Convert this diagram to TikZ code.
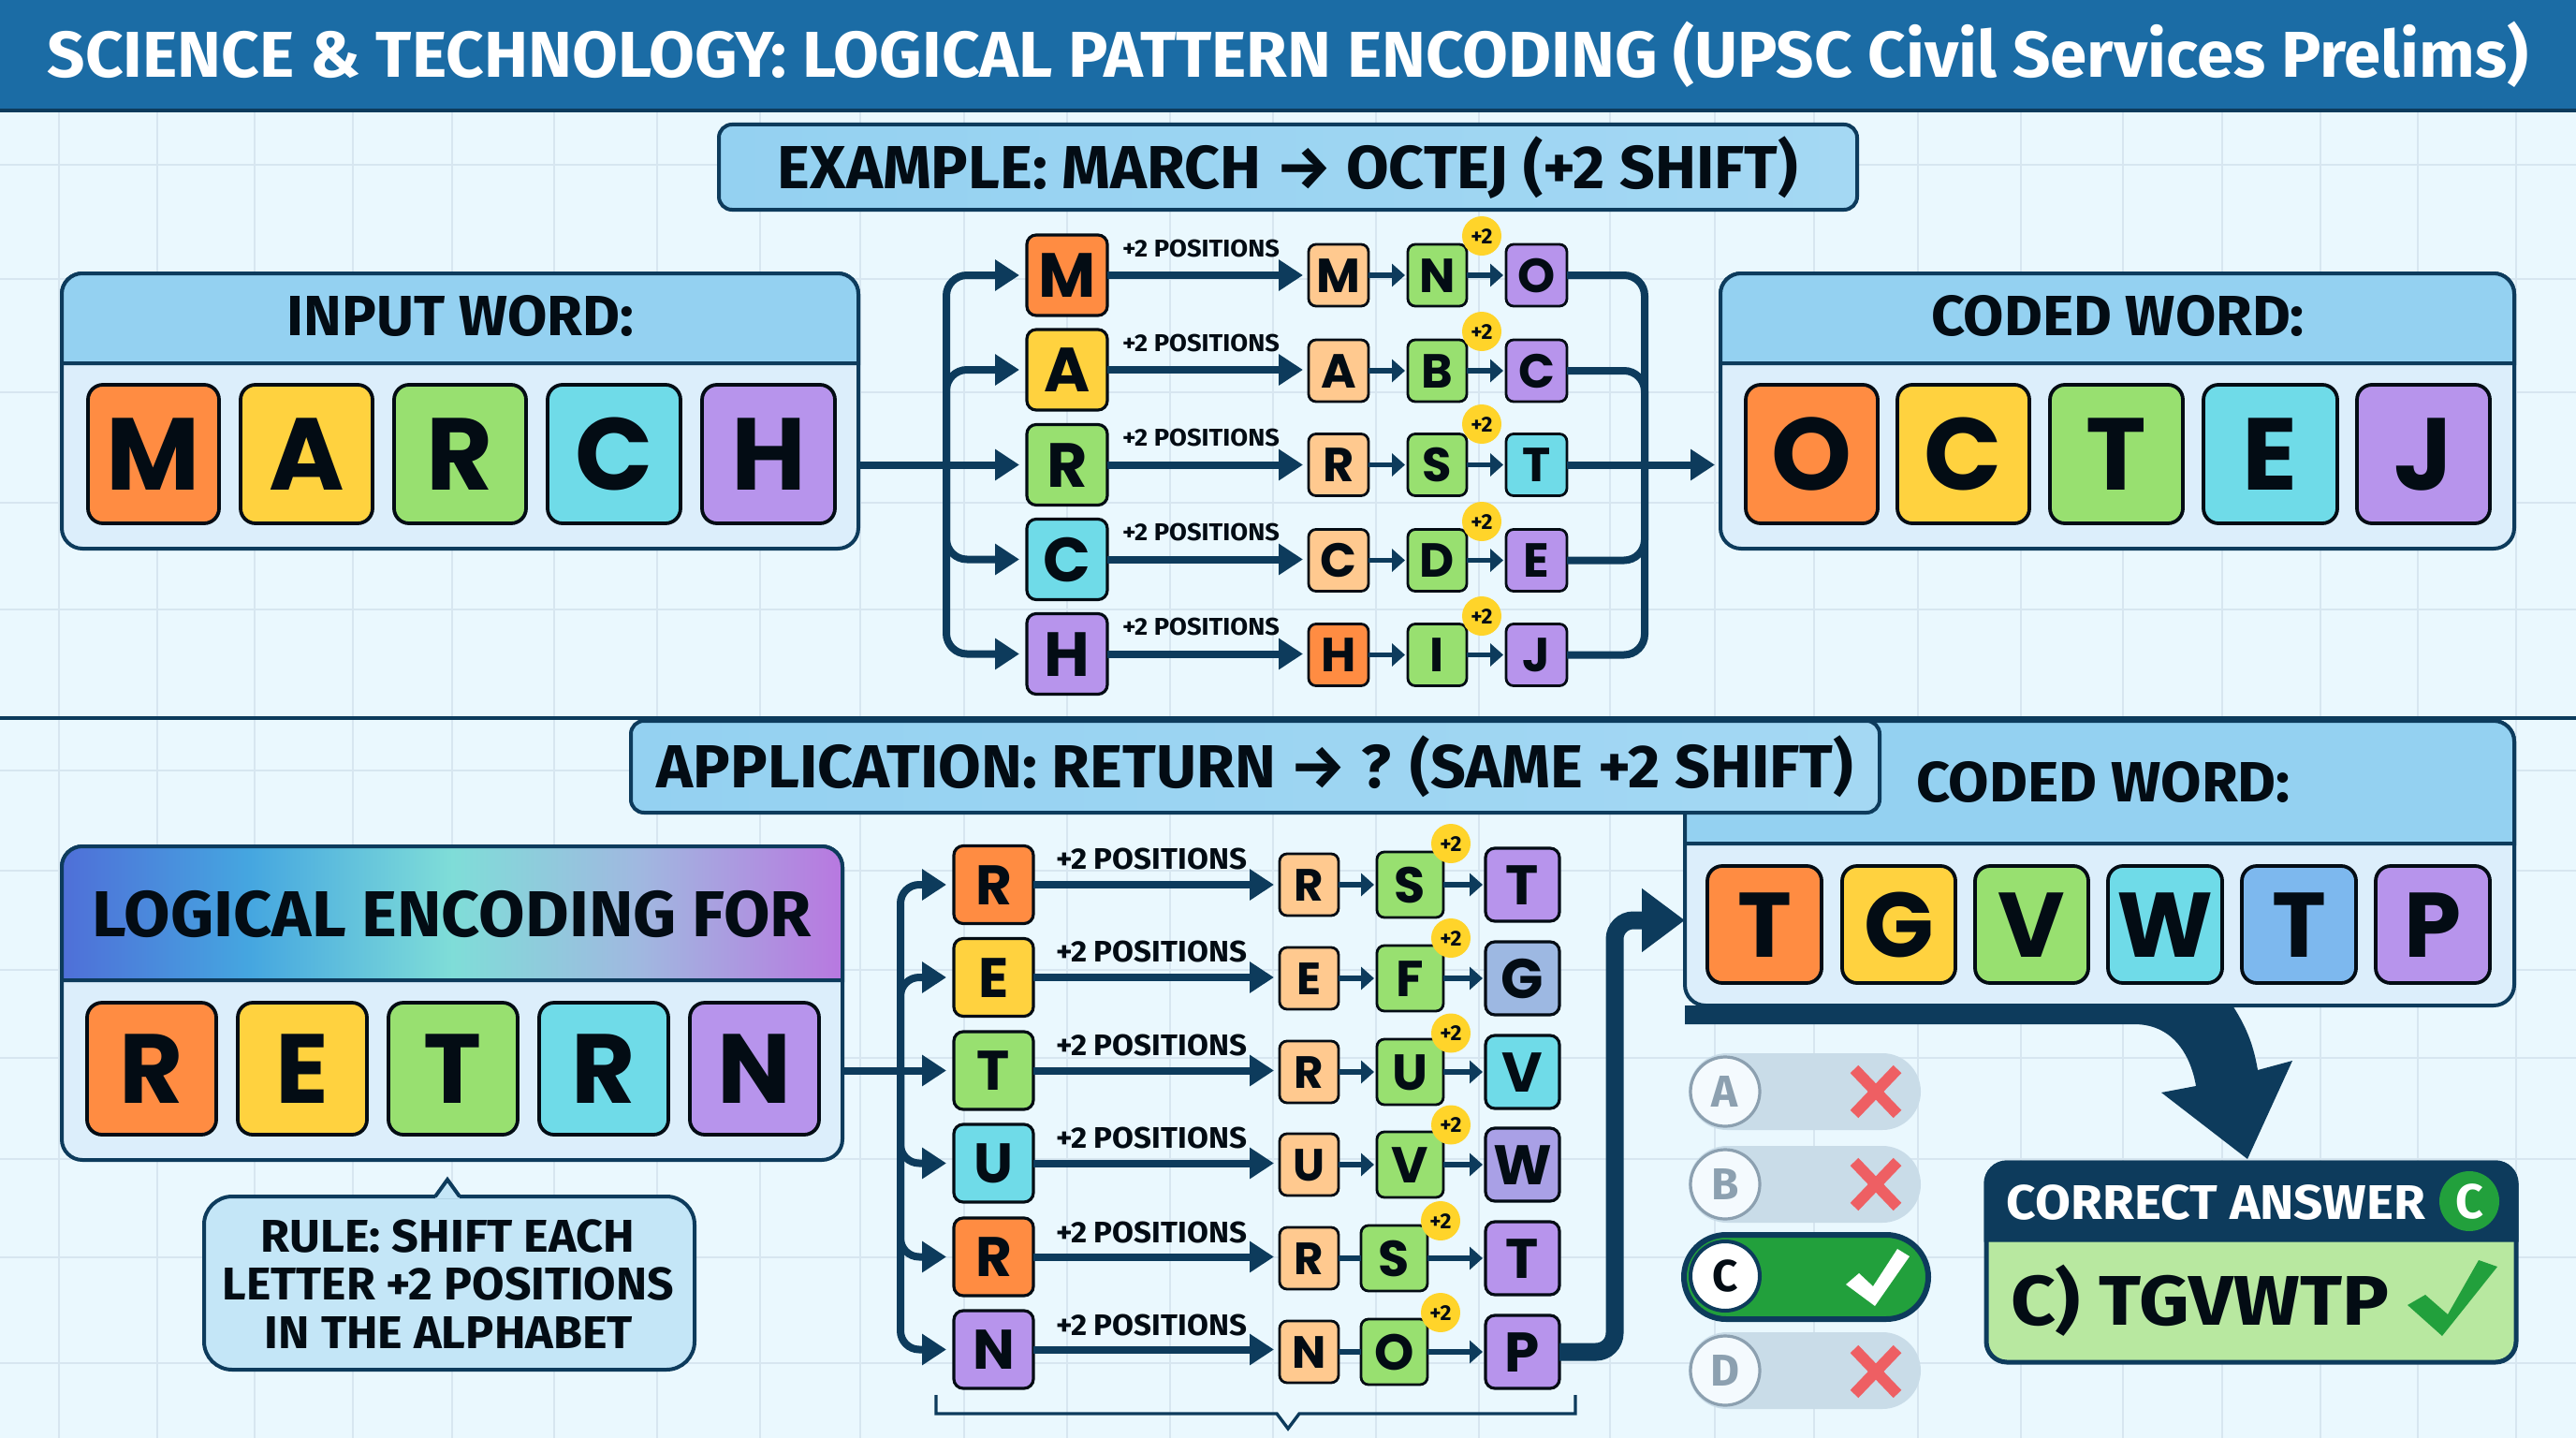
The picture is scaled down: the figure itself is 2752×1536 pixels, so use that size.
\documentclass[tikz,border=0pt]{standalone}
\usepackage{graphicx}
\usepackage{fontspec}
\setmainfont{Fira Sans}
\newfontfamily\tilefont{Poppins}
\usetikzlibrary{arrows.meta,calc}
\definecolor{dark}{HTML}{0D3B5C}
\definecolor{ink}{HTML}{030C14}
\definecolor{bgc}{HTML}{EAF8FE}
\definecolor{gridc}{HTML}{D7E6F0}
\definecolor{hdr}{HTML}{1B6CA5}
\definecolor{head}{HTML}{94D1F1}
\definecolor{bodyc}{HTML}{DCEEFB}
\definecolor{or}{HTML}{FF8C42}
\definecolor{ye}{HTML}{FFD23F}
\definecolor{gr}{HTML}{98E070}
\definecolor{cy}{HTML}{6FDBE8}
\definecolor{pu}{HTML}{B794EC}
\definecolor{bl}{HTML}{7DB8EE}
\definecolor{lo}{HTML}{FFC98F}
\definecolor{gb}{HTML}{9DB8E2}
\definecolor{wp}{HTML}{A9A0E6}
\definecolor{good}{HTML}{22A03C}
\definecolor{bad}{HTML}{EE5F63}
\definecolor{pill}{HTML}{C9DCE8}
\definecolor{muted}{HTML}{8CA0B0}
\definecolor{lg}{HTML}{B8E8A0}
\definecolor{ybadge}{HTML}{FFD42A}
\definecolor{logia}{HTML}{4F6FD8}
\definecolor{logib}{HTML}{45A6E0}
\definecolor{logic}{HTML}{7FDDD8}
\definecolor{logid}{HTML}{A0B8E0}
\definecolor{logie}{HTML}{B878E0}
\pgfdeclarehorizontalshading{logi}{100bp}{color(0bp)=(logia);color(25bp)=(logia);color(37bp)=(logib);color(50bp)=(logic);color(62bp)=(logid);color(75bp)=(logie);color(100bp)=(logie)}
\newlength\fw \newlength\fh
% text scaled so that width and cap height are given in reference pixels
\newcommand\fitt[3]{{\setlength\fw{\dimexpr#1pt/2\relax}\setlength\fh{\dimexpr#2pt/2\relax}\resizebox{\fw}{\fh}{\raisebox{0pt}[\fontcharht\font`H][0pt]{#3}}}}
\newcommand\capt[2]{{\setlength\fh{\dimexpr#1pt/2\relax}\resizebox{!}{\fh}{\raisebox{0pt}[\fontcharht\font`H][0pt]{#2}}}}
\newcommand\tile[8]{\node[#2, minimum width={((#5)-(#3))*0.5pt}, minimum height={((#6)-(#4))*0.5pt}] (#1) at ({((#3)+(#5))/2},{((#4)+(#6))/2}) {\capt{#7}{#8}};}
\tikzset{
  x=0.5pt,y=-0.5pt,
  every node/.style={inner sep=0pt,outer sep=0pt,font=\bfseries,text=ink},
  bt/.style={draw=ink,line width=1.9pt,rounded corners=8pt,font=\tilefont\bfseries},
  mt/.style={draw=ink,line width=1.6pt,rounded corners=5pt,font=\tilefont\bfseries},
  st/.style={draw=ink,line width=1.4pt,rounded corners=4pt,font=\tilefont\bfseries},
  panelbox/.style={draw=dark,line width=2pt,rounded corners=11pt,fill=bodyc},
  headpath/.style={draw=dark,line width=2pt,fill=head},
  bandbox/.style={draw=dark,line width=2pt,rounded corners=7pt,left color=head,right color=head!85!white},
  busline/.style={draw=dark,line width=4pt},
  busarrow/.style={busline,-{Triangle[length=13pt,width=16pt]},shorten >=4pt},
  rowarrow/.style={busline,-{Triangle[length=13pt,width=16pt]},shorten >=3pt},
  minarrow/.style={draw=dark,line width=2.6pt,-{Triangle[length=7pt,width=12pt]},shorten >=1.5pt},
  minstub/.style={draw=dark,line width=2.6pt},
  badge/.style={circle,fill=ybadge,minimum size=21pt},
  optpill/.style={fill=pill,minimum height=41pt,minimum width=124pt,rounded corners=20.5pt},
  optdisc/.style={circle,draw=muted,line width=1.6pt,fill=white!70!bodyc,minimum size=37pt,text=muted,font=\bfseries},
  crossm/.style={draw=bad,line width=6pt},
}
\begin{document}
\begin{tikzpicture}
\useasboundingbox (0,0) rectangle (2752,1536);
\fill[bgc] (0,0) rectangle (2752,1536);
% background grid
\foreach \gx in {63,168,272,377,483,592,702,812,919,1030,1140,1250,1360,1470,1580,1720,1832,1938,2049,2159,2268,2374,2479,2583,2688}
  \draw[gridc,line width=0.8pt] (\gx,120) -- (\gx,1536);
\foreach \gy in {176,298,419,537,651,823,930,1036,1130,1238,1343,1456}
  \draw[gridc,line width=0.8pt] (0,\gy) -- (2752,\gy);
% title band
\node[fill=hdr,draw=none,minimum width=1376pt,minimum height=59pt] (titleband) at (1376,59) {};
\draw[dark,line width=2pt] (titleband.south west) -- (titleband.south east);
\node[text=white] (titletext) at (1376,59) {\fitt{2650}{48}{SCIENCE \& TECHNOLOGY: LOGICAL PATTERN ENCODING (UPSC Civil Services Prelims)}};
% section rule
\draw[dark,line width=1.6pt] (0,767) -- (2752,767);
% example band
\node[bandbox,minimum width=608pt,minimum height=45.5pt] (example) at (1376,178.5) {\fitt{1090}{45}{EXAMPLE: MARCH → OCTEJ (+2 SHIFT)}};
% input panel
\node[panelbox,minimum width=425.5pt,minimum height=147pt] (input) at (491.5,439) {};
\path[headpath] (66,388) [rounded corners=11pt] -- (66,292) -- (917,292) [sharp corners] -- (917,388) -- cycle;
\node (inputtitle) at (492,337.5) {\fitt{370}{42}{INPUT WORD:}};
\tile{iM}{bt,fill=or}{94}{411}{234}{559}{77}{M}
\tile{iA}{bt,fill=ye}{257}{411}{398}{559}{77}{A}
\tile{iR}{bt,fill=gr}{421}{411}{562}{559}{77}{R}
\tile{iC}{bt,fill=cy}{585}{411}{727}{559}{77}{C}
\tile{iH}{bt,fill=pu}{750}{411}{892}{559}{77}{H}
% coded panel, top
\node[panelbox,minimum width=424pt,minimum height=147pt] (coded) at (2262,439) {};
\path[headpath] (1838,388) [rounded corners=11pt] -- (1838,292) -- (2686,292) [sharp corners] -- (2686,388) -- cycle;
\node (codedtitle) at (2262.5,337.5) {\fitt{399}{42}{CODED WORD:}};
\tile{oO}{bt,fill=or}{1865}{411}{2006}{559}{77}{O}
\tile{oC}{bt,fill=ye}{2027}{411}{2168}{559}{77}{C}
\tile{oT}{bt,fill=gr}{2190}{411}{2332}{559}{77}{T}
\tile{oE}{bt,fill=cy}{2354}{411}{2497}{559}{77}{E}
\tile{oJ}{bt,fill=pu}{2518}{411}{2660}{559}{77}{J}
% top rows
\foreach \k/\yb/\ys/\by/\big/\bc/\mida/\ca/\midb/\midc/\cc in {
  a/294/294/252/M/or/M/lo/N/O/pu,
  b/395/396/354/A/ye/A/lo/B/C/pu,
  c/496.5/496.5/453/R/gr/R/lo/S/T/cy,
  d/597.5/598.5/557/C/cy/C/lo/D/E/pu,
  e/698.5/699.5/658/H/pu/H/or/I/J/pu}{
  \tile{t\k}{mt,fill=\bc}{1097}{\yb-43}{1183}{\yb+43}{47}{\big}
  \tile{u\k}{st,fill=\ca}{1398}{\ys-33}{1462}{\ys+33}{36}{\mida}
  \tile{v\k}{st,fill=gr}{1504}{\ys-33}{1567}{\ys+33}{36}{\midb}
  \tile{w\k}{st,fill=\cc}{1609}{\ys-33}{1674}{\ys+33}{36}{\midc}
  \node[badge] (g\k) at (1583,\by) {\capt{16}{+2}};
  \node (p\k) at (1283,\yb-29) {\fitt{168}{18}{+2 POSITIONS}};
  \draw[rowarrow] (t\k.east) -- (t\k.east -| u\k.west);
  \draw[minarrow] (u\k.east) -- (v\k.west);
  \draw[minarrow] (v\k.east) -- (w\k.west);
}
\coordinate (busL) at (1011,496.5);
\coordinate (busR) at (1757,496.5);
\draw[busarrow] (input.east |- tc.west) -- (tc.west);
\foreach \k in {a,b,d,e}
  \draw[busarrow,rounded corners=11pt] (busL) |- (t\k.west);
\foreach \k in {a,b,d,e}
  \draw[busline,rounded corners=11pt] (w\k.east) -| (busR);
\draw[busarrow,shorten >=3pt] (wc.east) -- (coded.west |- wc.east);
% coded panel, bottom (behind the application band)
\node[panelbox,minimum width=443pt,minimum height=152pt] (codedB) at (2243,922) {};
\path[headpath] (1800,901) [rounded corners=11pt] -- (1800,770) -- (2686,770) [sharp corners] -- (2686,901) -- cycle;
\node (codedBtitle) at (2247,835) {\fitt{400}{42}{CODED WORD:}};
\tile{zT}{bt,fill=or}{1824}{925}{1946}{1050}{69}{T}
\tile{zG}{bt,fill=ye}{1968}{925}{2089}{1050}{69}{G}
\tile{zV}{bt,fill=gr}{2110}{925}{2231}{1050}{69}{V}
\tile{zW}{bt,fill=cy}{2252}{925}{2374}{1050}{69}{W}
\tile{zU}{bt,fill=bl}{2395}{925}{2517}{1050}{69}{T}
\tile{zP}{bt,fill=pu}{2538}{925}{2660}{1050}{69}{P}
% application band
\node[bandbox,minimum width=667pt,minimum height=49pt] (appband) at (1341,819) {\fitt{1278}{45}{APPLICATION: RETURN → ? (SAME +2 SHIFT)}};
% logical panel
\node[panelbox,minimum width=417pt,minimum height=167.5pt] (logic) at (483,1071.5) {};
\path[draw=dark,line width=2pt,shading=logi] (66,1047) [rounded corners=11pt] -- (66,904) -- (900,904) [sharp corners] -- (900,1047) -- cycle;
\node (logictitle) at (483,976) {\fitt{768}{48}{LOGICAL ENCODING FOR}};
\tile{lR}{bt,fill=or}{93}{1071}{231}{1212}{74}{R}
\tile{lE}{bt,fill=ye}{254}{1071}{392}{1212}{74}{E}
\tile{lT}{bt,fill=gr}{415}{1071}{553}{1212}{74}{T}
\tile{lU}{bt,fill=cy}{576}{1071}{714}{1212}{74}{R}
\tile{lN}{bt,fill=pu}{737}{1071}{875}{1212}{74}{N}
% rule callout
\node[draw=dark,line width=2pt,rounded corners=15pt,fill=head!55!white,minimum width=262pt,minimum height=92.5pt] (rule) at (480,1370.5) {};
\fill[head!55!white] ($(rule.north)+(-15,2)$) -- ($(rule.north)+(-2,-18)$) -- ($(rule.north)+(11,2)$) -- cycle;
\draw[dark,line width=2pt,line join=miter] ($(rule.north)+(-15,0)$) -- ($(rule.north)+(-2,-18)$) -- ($(rule.north)+(11,0)$);
\node (rulea) at (478.5,1320) {\fitt{399}{34}{RULE: SHIFT EACH}};
\node (ruleb) at (479,1371) {\fitt{482}{34}{LETTER +2 POSITIONS}};
\node (rulec) at (479.5,1423) {\fitt{393}{34}{IN THE ALPHABET}};
% bottom rows
\foreach \k/\yb/\ys/\big/\bc/\fa/\fb/\xa/\xb/\fc/\cc/\bx/\by/\ly/\fs in {
  a/945/945/R/or/R/S/1471/1542/T/pu/1550/901/917/minarrow,
  b/1044/1045/E/ye/E/F/1471/1542/G/gb/1550/1002/1016/minarrow,
  c/1143.5/1145/T/gr/R/U/1471/1542/V/cy/1550/1103.5/1116/minarrow,
  d/1242.5/1244/U/cy/U/V/1471/1542/W/wp/1550/1201.5/1215/minarrow,
  e/1342.5/1344/R/or/R/S/1454/1525/T/pu/1539/1304/1316/minstub,
  f/1441.5/1444/N/pu/N/O/1454/1525/P/pu/1539/1402/1415/minstub}{
  \tile{B\k}{mt,fill=\bc}{1019}{\yb-41.5}{1104}{\yb+41.5}{42}{\big}
  \tile{F\k}{st,fill=lo}{1367}{\ys-33}{1430}{\ys+33}{34}{\fa}
  \tile{G\k}{st,fill=gr}{\xa}{\ys-35}{\xb}{\ys+35}{38}{\fb}
  \tile{H\k}{mt,fill=\cc}{1587}{\ys-39}{1666}{\ys+39}{42}{\fc}
  \node[badge] (K\k) at (\bx,\by) {\capt{16}{+2}};
  \node (L\k) at (1230,\ly) {\fitt{204}{22}{+2 POSITIONS}};
  \draw[rowarrow] (B\k.east) -- (B\k.east -| F\k.west);
  \draw[\fs] (F\k.east) -- (G\k.west);
  \draw[minarrow] (G\k.east) -- (H\k.west);
}
\coordinate (busB) at (962,1143.5);
\draw[busarrow] (logic.east |- Bc.west) -- (Bc.west);
\foreach \k in {a,b,d,e,f}
  \draw[busarrow,rounded corners=10pt] (busB) |- (B\k.west);
% bracket
\draw[dark,line width=1.7pt] (1000,1490) |- (1364,1510) -- (1376,1526) -- (1388,1510) -| (1683,1490);
% P to coded arrow
\coordinate (turnP) at (1725,983);
\draw[draw=dark,line width=9.5pt,rounded corners=10pt,-{Triangle[length=23pt,width=32.5pt]}] (Hf.east) -| (turnP) -- (codedB.west |- turnP);
% big arrow to answer
\fill[dark] (1800,1074) -- (2385,1074) .. controls (2402,1100) and (2408,1120) .. (2412,1143) -- (2449,1133) -- (2401,1238) -- (2309,1167) -- (2346,1160) .. controls (2340,1125) and (2320,1094) .. (2280,1094) -- (1800,1094) -- cycle;
% options
\node[optpill] (pillA) at (1928,1166) {};
\node[optpill] (pillB) at (1928,1265) {};
\node[optpill,fill=good,draw=dark,line width=3pt,minimum width=130.5pt,minimum height=45pt,rounded corners=22.5pt] (pillC) at (1929.5,1364) {};
\node[optpill] (pillD) at (1928,1464) {};
\node[optdisc] (optA) at (1843,1166) {\capt{33}{A}};
\node[optdisc] (optB) at (1843,1265) {\capt{33}{B}};
\node[optdisc,draw=dark,text=ink,fill=white,line width=2pt] (optC) at (1843,1363) {\capt{33}{C}};
\node[optdisc] (optD) at (1843,1464) {\capt{33}{D}};
\foreach \yy in {1166,1265,1465} {
  \draw[crossm] (1981,\yy-24) -- (2027,\yy+24);
  \draw[crossm] (2027,\yy-24) -- (1981,\yy+24);
}
\fill[white] (1972,1372) -- (1986,1360) -- (2001,1374) -- (2027,1334) -- (2040,1342) -- (2003,1395) -- cycle;
% answer card
\node[draw=dark,line width=2.5pt,rounded corners=11pt,fill=lg,minimum width=283pt,minimum height=106.5pt] (answer) at (2405,1348.5) {};
\path[draw=dark,line width=2.5pt,fill=dark] (2122,1324) [rounded corners=11pt] -- (2122,1242) -- (2688,1242) [sharp corners] -- (2688,1324) -- cycle;
\node[text=white] (anstitle) at (2367.5,1284) {\fitt{447}{36}{CORRECT ANSWER}};
\node[circle,fill=good,text=white,minimum size=32pt] (ansC) at (2638,1283) {\capt{36}{C}};
\node (anstext) at (2350,1389) {\fitt{404}{52}{C) TGVWTP}};
\fill[good] (2572,1394) -- (2591,1383) -- (2615,1404) -- (2648,1346) -- (2668,1353) -- (2609,1427) -- cycle;
\end{tikzpicture}
\end{document}
